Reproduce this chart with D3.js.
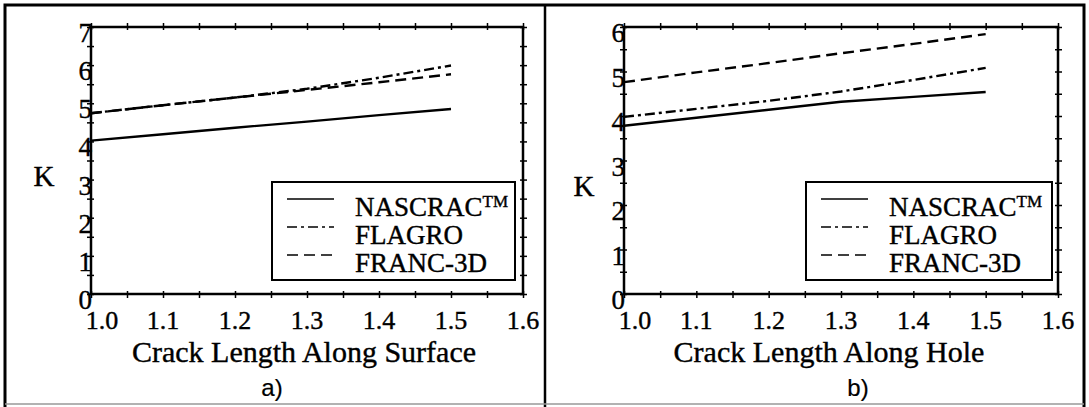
<!DOCTYPE html>
<html>
<head>
<meta charset="utf-8">
<script src="https://cdn.jsdelivr.net/npm/d3@7"></script>
<style>
  html, body { margin: 0; padding: 0; background: #fff; }
  svg { display: block; }
</style>
</head>
<body>
<svg id="chart" width="1089" height="407"></svg>
<script>
// ---------------- DATA ----------------
const crackLength = [1.0, 1.1, 1.2, 1.3, 1.4, 1.5];
const xTickLabels = ["1.0", "1.1", "1.2", "1.3", "1.4", "1.5", "1.6"];
const xTickValues = [1.0, 1.1, 1.2, 1.3, 1.4, 1.5, 1.6];
const seriesNames = ["NASCRAC", "FLAGRO", "FRANC-3D"];

// Panel a) Crack Length Along Surface
const surfaceNASCRAC = [4.02, 4.19, 4.36, 4.52, 4.69, 4.85];
const surfaceFLAGRO  = [4.74, 4.95, 5.15, 5.38, 5.67, 5.99];
const surfaceFRANC   = [4.74, 4.95, 5.15, 5.35, 5.55, 5.76];
const surfaceYTicks  = [0, 1, 2, 3, 4, 5, 6, 7];

// Panel b) Crack Length Along Hole
const holeNASCRAC = [3.78, 3.96, 4.14, 4.32, 4.43, 4.54];
const holeFLAGRO  = [3.98, 4.16, 4.34, 4.55, 4.81, 5.08];
const holeFRANC   = [4.76, 4.98, 5.19, 5.41, 5.62, 5.84];
const holeYTicks  = [0, 1, 2, 3, 4, 5, 6];

// ---------------- DRAW ----------------
const svg = d3.select("#chart");
const SERIF = '"Times New Roman", "Liberation Serif", serif';
const SANS = 'Arial, "Liberation Sans", sans-serif';

const dashStyles = {
  "NASCRAC": null,
  "FLAGRO": "10,4,3,4",
  "FRANC-3D": "11,6"
};

function txt(sel, fam, size, sw) {
  return sel.attr("font-family", fam).attr("font-size", size)
    .style("font-family", fam).style("font-size", size + "px")
    .attr("fill", "#000").attr("stroke", "#000")
    .attr("stroke-width", sw === undefined ? 0.4 : sw);
}

// outer frame
svg.append("rect").attr("x", 5).attr("y", 5).attr("width", 1079).attr("height", 410)
  .attr("fill", "none").attr("stroke", "#000").attr("stroke-width", 3);
svg.append("line").attr("x1", 545).attr("x2", 545).attr("y1", 5).attr("y2", 407)
  .attr("stroke", "#000").attr("stroke-width", 2.5);
svg.append("line").attr("x1", 5).attr("x2", 1084).attr("y1", 404).attr("y2", 404)
  .attr("stroke", "#999").attr("stroke-width", 1.5);

function panel(opts) {
  const g = svg.append("g");
  const x = d3.scaleLinear().domain([1.0, 1.6]).range([opts.x0, opts.x1]);
  const y = d3.scaleLinear().domain([0, opts.yMax]).range([opts.y1, opts.y0]);

  const xMinor = d3.range(1.0, 1.6001, 0.05);
  const yMinor = d3.range(0, opts.yMax + 0.001, 0.5);

  const axB = d3.axisBottom(x).tickValues(xMinor).tickSize(4).tickFormat("");
  const axT = d3.axisTop(x).tickValues(xMinor).tickSize(4).tickFormat("");
  const axL = d3.axisLeft(y).tickValues(yMinor).tickSize(4).tickFormat("");
  const axR = d3.axisRight(y).tickValues(yMinor).tickSize(4).tickFormat("");
  const axBi = d3.axisTop(x).tickValues(xMinor).tickSize(3).tickFormat("");
  const axTi = d3.axisBottom(x).tickValues(xMinor).tickSize(3).tickFormat("");
  const axLi = d3.axisRight(y).tickValues(yMinor).tickSize(3).tickFormat("");
  const axRi = d3.axisLeft(y).tickValues(yMinor).tickSize(3).tickFormat("");

  const place = [
    [axB, 0, opts.y1], [axBi, 0, opts.y1],
    [axT, 0, opts.y0], [axTi, 0, opts.y0],
    [axL, opts.x0, 0], [axLi, opts.x0, 0],
    [axR, opts.x1, 0], [axRi, opts.x1, 0]
  ];
  place.forEach(([ax, tx, ty]) => {
    const a = g.append("g").attr("transform", `translate(${tx},${ty})`).call(ax);
    a.select(".domain").remove();
    a.selectAll("line").attr("stroke", "#000").attr("stroke-width", 1.5);
  });

  // frame
  g.append("rect").attr("x", opts.x0).attr("y", opts.y0)
    .attr("width", opts.x1 - opts.x0).attr("height", opts.y1 - opts.y0)
    .attr("fill", "none").attr("stroke", "#000").attr("stroke-width", 2.5);

  // x tick labels
  g.selectAll(".xl").data(xTickValues).enter().append("text")
    .call(txt, SERIF, 26)
    .attr("x", (d, i) => x(d) + (i === 0 ? 11 : 0))
    .attr("y", opts.y1 + 35)
    .attr("text-anchor", "middle")
    .text((d, i) => xTickLabels[i]);

  // y tick labels
  g.selectAll(".yl").data(opts.yTicks).enter().append("text")
    .call(txt, SERIF, 27)
    .attr("x", opts.x0 + 1)
    .attr("y", d => y(d) + 15)
    .attr("text-anchor", "end")
    .text(d => d);

  // K label
  g.append("text").call(txt, SERIF, 29)
    .attr("x", opts.kx).attr("y", opts.ky)
    .attr("text-anchor", "middle").text("K");

  // x title
  g.append("text").call(txt, SERIF, 30)
    .attr("x", opts.titleX).attr("y", opts.y1 + 68)
    .attr("text-anchor", "middle").text(opts.title);

  // panel letter
  g.append("text").call(txt, SANS, 24, 0.2)
    .attr("x", opts.letterX).attr("y", 396)
    .attr("text-anchor", "middle").text(opts.letter);

  // lines
  const line = d3.line().x(d => x(d[0])).y(d => y(d[1]));
  opts.series.forEach((vals, i) => {
    const pts = crackLength.map((c, j) => [c, vals[j]]);
    g.append("path").datum(pts)
      .attr("d", line)
      .attr("fill", "none").attr("stroke", "#000")
      .attr("stroke-width", 2.4)
      .attr("stroke-dasharray", dashStyles[seriesNames[i]]);
  });

  // legend
  const lg = g.append("g");
  lg.append("rect").attr("x", opts.legX).attr("y", opts.legY)
    .attr("width", opts.legW).attr("height", opts.legH)
    .attr("fill", "#fff").attr("stroke", "#000").attr("stroke-width", 2);
  seriesNames.forEach((name, i) => {
    const cy = opts.legY + 25 + i * 28;
    lg.append("line")
      .attr("x1", opts.legX + 15).attr("x2", opts.legX + 62)
      .attr("y1", cy - 8).attr("y2", cy - 8)
      .attr("stroke", "#000").attr("stroke-width", 1.6)
      .attr("stroke-dasharray", dashStyles[name]);
    const t = lg.append("text").call(txt, SERIF, 27)
      .attr("x", opts.legX + 83).attr("y", cy + 9);
    t.append("tspan").text(name);
    if (name === "NASCRAC") {
      t.append("tspan").attr("dy", -9).attr("font-size", 17).style("font-size", "17px").text("TM");
    }
  });
}

panel({
  x0: 91, x1: 523, y0: 27, y1: 294, yMax: 7, yTicks: surfaceYTicks,
  series: [surfaceNASCRAC, surfaceFLAGRO, surfaceFRANC],
  kx: 44, ky: 186, title: "Crack Length Along Surface", titleX: 304,
  letter: "a)", letterX: 272,
  legX: 272, legY: 182, legW: 243, legH: 98
});

panel({
  x0: 624, x1: 1058, y0: 27, y1: 294, yMax: 6, yTicks: holeYTicks,
  series: [holeNASCRAC, holeFLAGRO, holeFRANC],
  kx: 584, ky: 196, title: "Crack Length Along Hole", titleX: 829,
  letter: "b)", letterX: 858,
  legX: 806, legY: 182, legW: 246, legH: 98
});
</script>
</body>
</html>
